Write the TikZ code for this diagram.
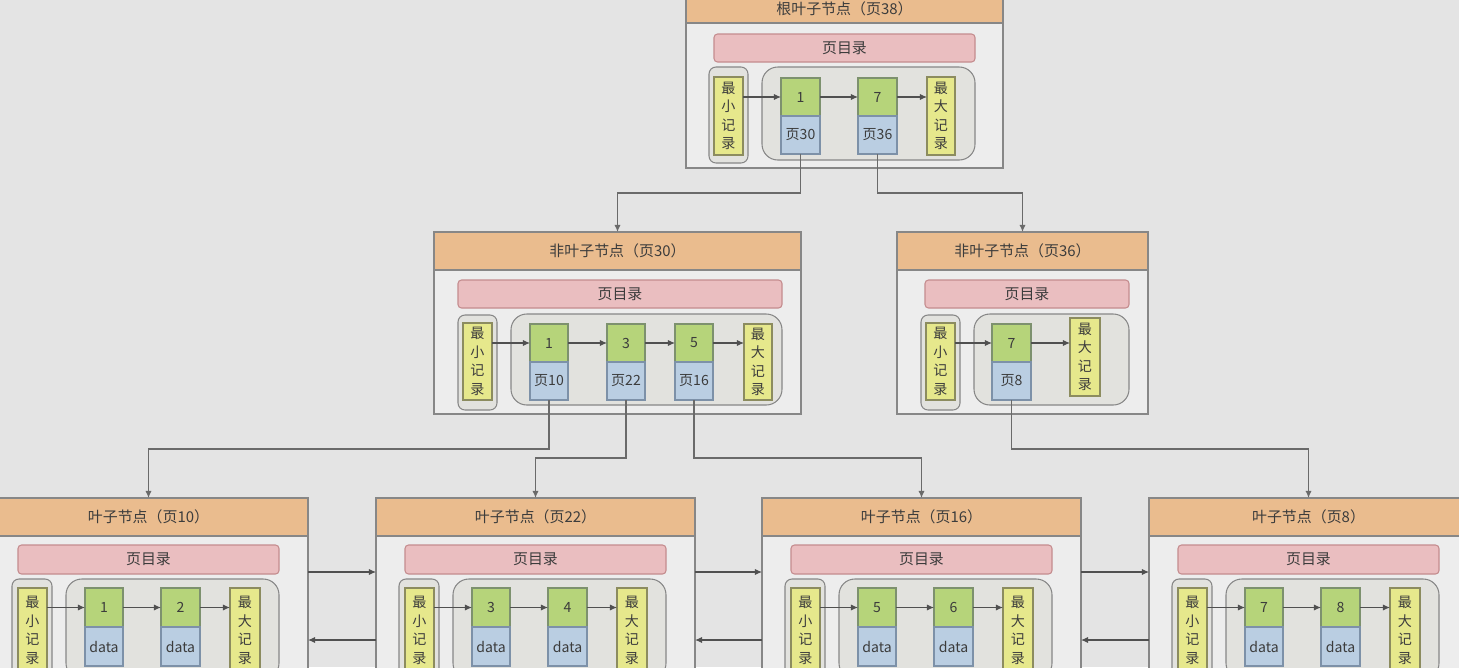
\documentclass[tikz,border=0pt]{standalone}
\usepackage{fontspec}
\setmainfont{Noto Sans CJK SC}
\usetikzlibrary{arrows.meta}

\definecolor{bgcol}{RGB}{228,228,228}
\definecolor{bodycol}{RGB}{237,237,237}
\definecolor{edgecol}{RGB}{135,135,135}
\definecolor{headcol}{RGB}{234,188,142}
\definecolor{pinkcol}{RGB}{234,190,192}
\definecolor{pinkedge}{RGB}{196,140,142}
\definecolor{slotcol}{RGB}{226,226,222}
\definecolor{yellowcol}{RGB}{230,232,140}
\definecolor{yellowedge}{RGB}{140,140,95}
\definecolor{greencol}{RGB}{182,212,122}
\definecolor{greenedge}{RGB}{125,145,110}
\definecolor{bluecol}{RGB}{186,206,226}
\definecolor{blueedge}{RGB}{125,145,168}
\definecolor{txtcol}{RGB}{60,60,60}
\definecolor{linecol}{RGB}{80,80,80}

\newcommand{\pxu}{0.02cm}

\tikzset{
	wh/.style 2 args={minimum width=#1*\pxu, minimum height=#2*\pxu},
	cellbase/.style={inner sep=0pt, outer sep=0pt, anchor=north west, line width=0.6pt, text=txtcol},
	pbody/.style={cellbase, draw=edgecol, fill=bodycol},
	phead/.style={cellbase, draw=edgecol, fill=headcol, font=\fontsize{8.5}{10}\selectfont},
	pdir/.style={cellbase, draw=pinkedge, fill=pinkcol, rounded corners=2pt, font=\fontsize{8.5}{10}\selectfont},
	minslot/.style={cellbase, draw=edgecol, fill=slotcol, rounded corners=4pt},
	recgroup/.style={cellbase, draw=edgecol, fill=slotcol, rounded corners=9pt},
	infbox/.style={cellbase, draw=yellowedge, fill=yellowcol, align=center, font=\fontsize{8}{10.5}\selectfont},
	keycell/.style={cellbase, draw=greenedge, fill=greencol, wh={39}{38}, font=\fontsize{8}{10}\selectfont},
	ptrcell/.style={cellbase, anchor=north, draw=blueedge, fill=bluecol, wh={39}{38}, font=\fontsize{8}{10}\selectfont},
	link/.style={draw=linecol, line width=0.6pt, -{Latex[length=4pt,width=3.5pt]}},
	tree/.style={draw=linecol!85, line width=0.7pt, -{Latex[length=4pt,width=3.5pt]}}
}

\begin{document}
\begin{tikzpicture}[x=0.02cm, y=-0.02cm]
	\useasboundingbox (0,0) rectangle (1459,667);
	\clip (0,0) rectangle (1459,667);
	\fill[bgcol] (0,0) rectangle (1459,667);
	
	% root page
	\node[pbody, wh={317}{183}] (rb) at (686,-15) {};
	\node[phead, wh={317}{28}] (rh) at (686,-5) {根叶子节点（页38）};
	\node[pdir, wh={261}{28}] (rd) at (714,34) {页目录};
	\node[minslot, wh={39}{96}] (rs) at (709,67) {};
	\node[recgroup, wh={213}{93}] (rg) at (762,67) {};
	\node[infbox, wh={29}{78}] (rmin) at (714,77) {最\\小\\记\\录};
	\node[keycell] (rk1) at (781,78) {1};
	\node[ptrcell] (rp1) at (rk1.south) {页30};
	\node[keycell] (rk2) at (858,78) {7};
	\node[ptrcell] (rp2) at (rk2.south) {页36};
	\node[infbox, wh={28}{78}] (rmax) at (927,77) {最\\大\\记\\录};
	\draw[link] (rmin.east |- rk1.west) -- (rk1.west);
	\draw[link] (rk1.east) -- (rk2.west);
	\draw[link] (rk2.east) -- (rk2.east -| rmax.west);
	
	% non-leaf page 30
	\node[pbody, wh={367}{182}] (nb) at (434,232) {};
	\node[phead, wh={367}{38}] (nh) at (434,232) {非叶子节点（页30）};
	\node[pdir, wh={324}{28}] (nd) at (458,280) {页目录};
	\node[minslot, wh={39}{95}] (ns) at (458,315) {};
	\node[recgroup, wh={271}{91}] (ng) at (511,314) {};
	\node[infbox, wh={29}{77}] (nmin) at (463,323) {最\\小\\记\\录};
	\node[keycell, wh={38}{38}] (nk1) at (530,324) {1};
	\node[ptrcell, wh={38}{38}] (np1) at (nk1.south) {页10};
	\node[keycell, wh={38}{38}] (nk2) at (607,324) {3};
	\node[ptrcell, wh={38}{38}] (np2) at (nk2.south) {页22};
	\node[keycell, wh={38}{38}] (nk3) at (675,324) {5};
	\node[ptrcell, wh={38}{38}] (np3) at (nk3.south) {页16};
	\node[infbox, wh={28}{76}] (nmax) at (744,324) {最\\大\\记\\录};
	\draw[link] (nmin.east |- nk1.west) -- (nk1.west);
	\draw[link] (nk1.east) -- (nk2.west);
	\draw[link] (nk2.east) -- (nk3.west);
	\draw[link] (nk3.east) -- (nk3.east -| nmax.west);
	
	% non-leaf page 36
	\node[pbody, wh={251}{182}] (mb) at (897,232) {};
	\node[phead, wh={251}{38}] (mh) at (897,232) {非叶子节点（页36）};
	\node[pdir, wh={204}{28}] (md) at (925,280) {页目录};
	\node[minslot, wh={39}{95}] (ms) at (921,315) {};
	\node[recgroup, wh={155}{91}] (mg) at (974,314) {};
	\node[infbox, wh={29}{77}] (mmin) at (926,323) {最\\小\\记\\录};
	\node[keycell] (mk1) at (992,324) {7};
	\node[ptrcell] (mp1) at (mk1.south) {页8};
	\node[infbox, wh={30}{78}] (mmax) at (1070,318) {最\\大\\记\\录};
	\draw[link] (mmin.east |- mk1.west) -- (mk1.west);
	\draw[link] (mk1.east) -- (mk1.east -| mmax.west);
	
	% leaf pages
	\foreach \L/\pg/\a/\b [count=\i] in {-11/10/1/2, 376/22/3/4, 762/16/5/6, 1149/8/7/8}{
		\node[pbody, wh={319}{210}] (lb\i) at (\L,498) {};
		\node[phead, wh={319}{38}] (lh\i) at (\L,498) {叶子节点（页\pg）};
		\node[pdir, wh={261}{29}] (ld\i) at (\L+29,545) {页目录};
		\node[minslot, wh={40}{100}] (ls\i) at (\L+23,579) {};
		\node[recgroup, wh={213}{100}] (lg\i) at (\L+77,579) {};
		\node[infbox, wh={29}{85}] (lmin\i) at (\L+29,588) {最\\小\\记\\录};
		\node[keycell, wh={38}{39}] (lka\i) at (\L+96,588) {\a};
		\node[ptrcell, wh={38}{39}] (lpa\i) at (lka\i.south) {data};
		\node[keycell, wh={39}{39}] (lkb\i) at (\L+172,588) {\b};
		\node[ptrcell, wh={39}{39}] (lpb\i) at (lkb\i.south) {data};
		\node[infbox, wh={30}{85}] (lmax\i) at (\L+241,588) {最\\大\\记\\录};
		\draw[link] (lmin\i.east |- lka\i.west) -- (lka\i.west);
		\draw[link] (lka\i.east) -- (lkb\i.west);
		\draw[link] (lkb\i.east) -- (lkb\i.east -| lmax\i.west);
	}
	
	% sibling links between leaves
	\foreach \i/\j in {1/2, 2/3, 3/4}{
		\draw[link] ([yshift=-74*\pxu]lb\i.north east) -- ([yshift=-74*\pxu]lb\j.north west);
		\draw[link] ([yshift=-142*\pxu]lb\j.north west) -- ([yshift=-142*\pxu]lb\i.north east);
	}
	
	% tree pointers
	\draw[tree] (rp1.south) -- ++(0,39) -| (nh.north);
	\draw[tree] (rp2.south) -- ++(0,39) -| (mh.north);
	\draw[tree] (np1.south) -- ++(0,49) -| (lh1.north);
	\draw[tree] (np2.south) -- ++(0,58) -| (lh2.north);
	\draw[tree] (np3.south) -- ++(0,58) -| (lh3.north);
	\draw[tree] (mp1.south) -- ++(0,49) -| (lh4.north);
\end{tikzpicture}
\end{document}
